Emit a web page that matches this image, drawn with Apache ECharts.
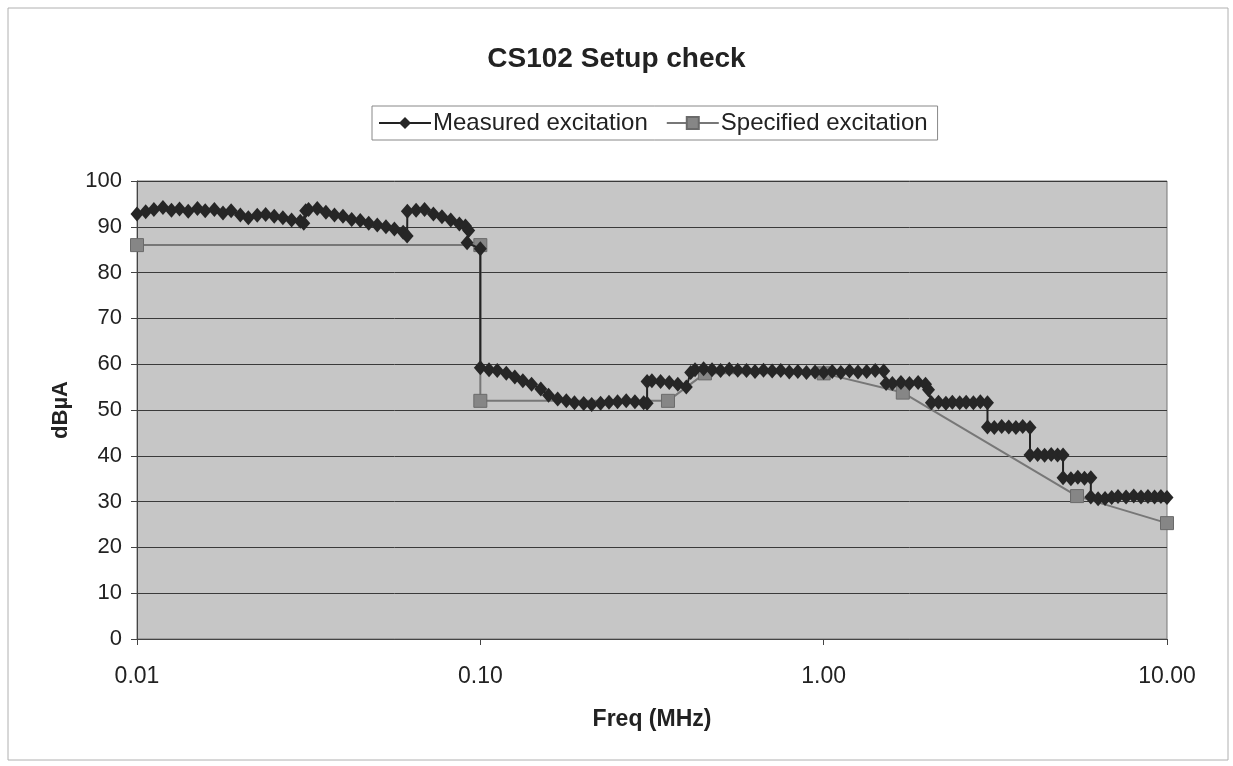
<!DOCTYPE html>
<html>
<head>
<meta charset="utf-8">
<script src="https://cdn.jsdelivr.net/npm/echarts@6/dist/echarts.min.js"></script>
<style>
html,body{margin:0;padding:0;background:#fff;}
#chart{width:1233px;height:766px;}
</style>
</head>
<body>
<div id="chart"></div>
<script>
var titleText = 'CS102 Setup check';
var seriesNames = ['Measured excitation', 'Specified excitation'];
var xAxisName = 'Freq (MHz)';
var yAxisName = 'dBµA';

var measuredFreq = [
  0.0100,0.0106,0.0112,0.0119,0.0126,0.0133,0.0141,0.0150,0.0158,0.0168,
  0.0178,0.0188,0.0200,0.0211,0.0224,0.0237,0.0251,0.0266,0.0282,0.0299,
  0.0306,0.0310,0.0316,0.0335,0.0355,0.0376,0.0398,0.0422,0.0447,0.0473,
  0.0501,0.0531,0.0562,0.0596,0.0612,0.0613,0.0650,0.0688,0.0730,0.0773,
  0.0820,0.0869,0.0905,0.0925,0.0915,0.1000,0.1000,0.1060,0.1120,0.1190,
  0.1260,0.1330,0.1410,0.1500,0.1580,0.1680,0.1780,0.1880,0.2000,0.2110,
  0.2240,0.2370,0.2510,0.2660,0.2820,0.2990,0.3060,0.3060,0.3160,0.3350,
  0.3550,0.3760,0.3980,0.4100,0.4220,0.4470,0.4730,0.5010,0.5310,0.5620,
  0.5960,0.6310,0.6680,0.7080,0.7500,0.7940,0.8410,0.8910,0.9440,1.0000,
  1.0590,1.1220,1.1890,1.2590,1.3340,1.4130,1.4960,1.5200,1.5850,1.6790,
  1.7780,1.8840,1.9800,2.0200,2.0600,2.1600,2.2700,2.3700,2.4900,2.6000,
  2.7300,2.8600,3.0000,3.0000,3.1400,3.3000,3.4600,3.6300,3.8000,3.9900,
  3.9900,4.2000,4.4000,4.6000,4.8000,4.9800,4.9800,5.2500,5.5000,5.7500,
  6.0000,6.0000,6.3000,6.6000,6.9000,7.2000,7.6000,8.0000,8.4000,8.8000,
  9.2000,9.6000,10.000
];
var measuredValue = [
  92.8,93.3,93.8,94.2,93.6,93.9,93.4,94.0,93.5,93.8,
  93.0,93.5,92.6,92.0,92.5,92.7,92.3,92.0,91.5,91.2,
  90.8,93.5,93.8,94.0,93.2,92.6,92.3,91.6,91.4,90.8,
  90.4,90.0,89.5,88.8,88.0,93.4,93.6,93.8,92.8,92.2,
  91.5,90.6,90.2,89.2,86.5,85.2,59.2,58.8,58.6,58.0,
  57.2,56.4,55.6,54.6,53.2,52.4,52.0,51.6,51.4,51.2,
  51.5,51.7,51.8,52.0,51.8,51.6,51.5,56.2,56.4,56.2,
  56.0,55.6,55.0,58.2,58.8,59.0,58.8,58.6,58.9,58.7,
  58.6,58.4,58.7,58.5,58.6,58.3,58.4,58.2,58.3,58.2,
  58.4,58.2,58.5,58.3,58.4,58.6,58.5,55.8,55.8,56.0,
  55.8,56.0,55.6,54.4,51.6,51.7,51.5,51.7,51.6,51.7,
  51.6,51.8,51.6,46.3,46.2,46.4,46.3,46.2,46.4,46.2,
  40.2,40.3,40.1,40.3,40.2,40.2,35.2,35.0,35.3,35.1,
  35.2,31.0,30.6,30.7,30.9,31.1,31.0,31.2,31.0,31.1,
  31.0,31.1,30.9
];
var specifiedFreq = [0.01, 0.1, 0.1, 0.352, 0.451, 1.0, 1.70, 5.47, 10.0];
var specifiedValue = [86, 86, 52, 52, 58, 58, 53.8, 31.2, 25.3];

function pairs(xs, ys) {
  var out = [];
  for (var i = 0; i < xs.length; i++) out.push([xs[i], ys[i]]);
  return out;
}

var chart = echarts.init(document.getElementById('chart'), null, {renderer: 'canvas'});
var font = '"Liberation Sans", Arial, sans-serif';

chart.setOption({
  animation: false,
  backgroundColor: '#ffffff',
  textStyle: {fontFamily: font},
  title: {
    text: titleText,
    left: 'center',
    top: 40,
    textStyle: {fontFamily: font, fontSize: 28, fontWeight: 'bold', color: '#222'}
  },
  legend: {
    data: seriesNames,
    left: 372,
    top: 106,
    padding: [5, 10, 5, 6],
    itemGap: 18,
    itemWidth: 52,
    itemHeight: 15,
    borderColor: '#888',
    borderWidth: 1,
    textStyle: {fontFamily: font, fontSize: 24, color: '#222', padding: [0, 0, 0, -3]}
  },
  graphic: [{
    type: 'rect',
    shape: {x: 8, y: 8, width: 1220, height: 752},
    style: {fill: 'none', stroke: '#b0b0b0', lineWidth: 1},
    silent: true
  }],
  grid: {
    left: 137,
    right: 66,
    top: 181,
    bottom: 127,
    show: true,
    backgroundColor: '#c6c6c6',
    borderColor: '#777',
    borderWidth: 1
  },
  xAxis: {
    type: 'log',
    logBase: 10,
    min: 0.01,
    max: 10,
    name: xAxisName,
    nameLocation: 'middle',
    nameGap: 69,
    nameTextStyle: {fontFamily: font, fontSize: 23, fontWeight: 'bold', color: '#222'},
    axisLine: {show: true, lineStyle: {color: '#444', width: 1}},
    axisTick: {show: true, length: 6, lineStyle: {color: '#444'}},
    minorTick: {show: false},
    splitLine: {show: false},
    axisLabel: {
      fontFamily: font, fontSize: 23, color: '#222', margin: 26,
      formatter: function (v) { return Number(v).toFixed(2); }
    }
  },
  yAxis: {
    type: 'value',
    min: 0,
    max: 100,
    interval: 10,
    name: yAxisName,
    nameLocation: 'middle',
    nameGap: 65,
    nameRotate: 90,
    nameTextStyle: {fontFamily: font, fontSize: 22, fontWeight: 'bold', color: '#222'},
    axisLine: {show: true, lineStyle: {color: '#444', width: 1}},
    axisTick: {show: true, length: 6, lineStyle: {color: '#444'}},
    splitLine: {show: true, lineStyle: {color: '#3a3a3a', width: 1}},
    axisLabel: {fontFamily: font, fontSize: 22, color: '#222', margin: 15}
  },
  series: [
    {
      name: seriesNames[1],
      type: 'line',
      data: pairs(specifiedFreq, specifiedValue),
      symbol: 'rect',
      symbolSize: 13,
      showAllSymbol: true,
      z: 2,
      lineStyle: {color: '#777', width: 2},
      itemStyle: {color: '#868686', borderColor: '#6a6a6a', borderWidth: 1}
    },
    {
      name: seriesNames[0],
      type: 'line',
      data: pairs(measuredFreq, measuredValue),
      symbol: 'diamond',
      symbolSize: [13, 15],
      showAllSymbol: true,
      z: 3,
      lineStyle: {color: '#222', width: 2},
      itemStyle: {color: '#262626'}
    }
  ]
});
</script>
</body>
</html>
